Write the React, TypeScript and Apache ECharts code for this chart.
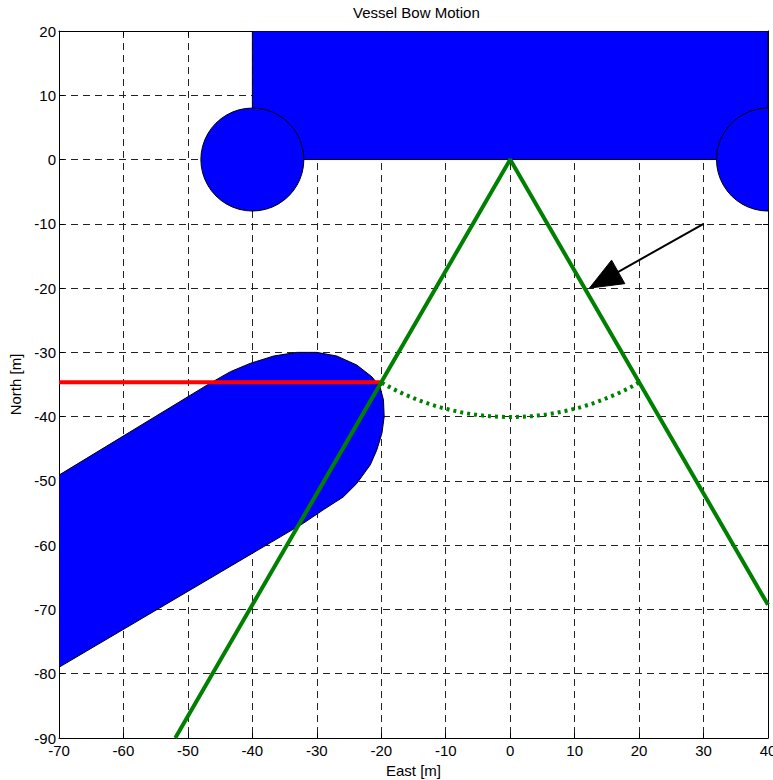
import React, { useEffect, useRef } from "react";
import * as echarts from "echarts";

// Axis ranges and tick step
const xRange = [-70, 40];
const yRange = [-90, 20];
const tickStep = 10;

// Quay / structure: rectangle [xmin, ymin, xmax, ymax]
const quayRect = [-40, 0, 40, 20];
// Fender circles: [cx, cy, r]
const fenderCircles = [
  [-40, 0, 8],
  [40, 0, 8],
];
// Vessel hull outline (East, North)
const hullOutline = [
  [-70, -79],
  [-32.1, -56.6],
  [-29.0, -54.5],
  [-25.9, -52.5],
  [-23.8, -50.4],
  [-21.7, -47.5],
  [-20.7, -45.2],
  [-19.9, -42.6],
  [-19.55, -40.0],
  [-19.66, -37.4],
  [-20.2, -35.35],
  [-21.46, -33.8],
  [-23.8, -31.97],
  [-26.9, -30.57],
  [-30.0, -30.0],
  [-33.1, -30.0],
  [-36.7, -30.57],
  [-40.3, -31.7],
  [-43.4, -33.0],
  [-46.55, -34.8],
  [-70, -49.1],
];
// Sector limit lines (green)
const sectorLines = [
  [-51.96, -90],
  [0, 0],
  [40, -69.28],
];
// Bow reach arc: [cx, cy, radius, fromDeg, toDeg]
const bowArc = [0, 0, 40, -120, -60];
// Red bow track line
const bowTrack = [
  [-70, -34.64],
  [-20, -34.64],
];
// Arrow: tail, tip
const arrowPts = [
  [30, -10],
  [12.3, -20],
];

const FONT = "Liberation Sans, Arial, sans-serif";
const BLUE = "#0000ff";
const GREEN = "#008000";

export default function App() {
  const ref = useRef<HTMLDivElement>(null);

  useEffect(() => {
    if (!ref.current) return;
    const chart = echarts.init(ref.current, null, { renderer: "svg" });

    const baseAxis = (extra: any) => ({
      type: "value",
      interval: tickStep,
      axisLine: { show: true, onZero: false, lineStyle: { color: "#000", width: 1 } },
      axisTick: { show: true, inside: true, length: 5, lineStyle: { color: "#000", width: 1 } },
      ...extra,
    });

    const option: any = {
      animation: false,
      backgroundColor: "#fff",
      grid: {
        left: 59,
        right: 5,
        top: 31,
        bottom: 42,
        containLabel: false,
        outerBoundsMode: "none",
      },
      graphic: [
        {
          type: "text",
          left: 353,
          top: 5,
          style: {
            text: "Vessel Bow Motion",
            fontFamily: FONT,
            fontSize: 15,
            fill: "#000",
          },
        },
      ],
      xAxis: [
        baseAxis({
          min: xRange[0],
          max: xRange[1],
          position: "bottom",
          name: "East [m]",
          nameLocation: "middle",
          nameGap: 22,
          nameTextStyle: { fontFamily: FONT, fontSize: 15, color: "#000" },
          axisLabel: { fontFamily: FONT, fontSize: 15, color: "#000", margin: 5 },
          splitLine: { show: true, lineStyle: { color: "#222", width: 1, type: [7, 5] } },
        }),
        baseAxis({
          min: xRange[0],
          max: xRange[1],
          position: "top",
          axisLabel: { show: false },
          splitLine: { show: false },
        }),
      ],
      yAxis: [
        baseAxis({
          min: yRange[0],
          max: yRange[1],
          position: "left",
          name: "North [m]",
          nameLocation: "middle",
          nameGap: 34,
          nameRotate: 90,
          nameTextStyle: { fontFamily: FONT, fontSize: 15, color: "#000" },
          axisLabel: { fontFamily: FONT, fontSize: 15, color: "#000", margin: 3 },
          splitLine: { show: true, lineStyle: { color: "#222", width: 1, type: [7, 5] } },
        }),
        baseAxis({
          min: yRange[0],
          max: yRange[1],
          position: "right",
          axisLabel: { show: false },
          splitLine: { show: false },
        }),
      ],
      series: [
        {
          type: "custom",
          clip: true,
          data: [quayRect],
          renderItem: (params: any, api: any) => {
            const p1 = api.coord([api.value(0), api.value(3)]);
            const p2 = api.coord([api.value(2), api.value(1)]);
            return {
              type: "rect",
              shape: { x: p1[0], y: p1[1], width: p2[0] - p1[0], height: p2[1] - p1[1] },
              style: { fill: BLUE, stroke: "#000", lineWidth: 1 },
            };
          },
          z: 2,
        },
        {
          type: "custom",
          clip: true,
          data: fenderCircles,
          renderItem: (params: any, api: any) => {
            const c = api.coord([api.value(0), api.value(1)]);
            const s = api.size([api.value(2), api.value(2)]);
            return {
              type: "circle",
              shape: { cx: c[0], cy: c[1], r: (s[0] + s[1]) / 2 },
              style: { fill: BLUE, stroke: "#000", lineWidth: 1 },
            };
          },
          z: 3,
        },
        {
          type: "custom",
          clip: true,
          data: [[0, 0]],
          renderItem: (params: any, api: any) => {
            const pts = hullOutline.map((p) => api.coord(p));
            return {
              type: "polygon",
              shape: { points: pts },
              style: { fill: BLUE, stroke: "#000", lineWidth: 1 },
            };
          },
          z: 3,
        },
        {
          type: "line",
          data: bowTrack,
          showSymbol: false,
          symbol: "none",
          lineStyle: { color: "#ff0000", width: 4 },
          z: 4,
        },
        {
          type: "line",
          data: sectorLines,
          showSymbol: false,
          symbol: "none",
          lineStyle: { color: GREEN, width: 4 },
          z: 5,
        },
        {
          type: "custom",
          clip: true,
          data: [bowArc],
          renderItem: (params: any, api: any) => {
            const c = api.coord([api.value(0), api.value(1)]);
            const s = api.size([api.value(2), api.value(2)]);
            const r = (s[0] + s[1]) / 2;
            const a0 = (-api.value(4) * Math.PI) / 180;
            const a1 = (-api.value(3) * Math.PI) / 180;
            return {
              type: "arc",
              shape: { cx: c[0], cy: c[1], r, startAngle: a0, endAngle: a1, clockwise: true },
              style: { stroke: GREEN, lineWidth: 4, lineDash: [3, 4], fill: "none" },
            };
          },
          z: 5,
        },
        {
          type: "custom",
          clip: true,
          data: [[arrowPts[0][0], arrowPts[0][1], arrowPts[1][0], arrowPts[1][1]]],
          renderItem: (params: any, api: any) => {
            const p0 = api.coord([api.value(0), api.value(1)]);
            const p1 = api.coord([api.value(2), api.value(3)]);
            const dx = p1[0] - p0[0];
            const dy = p1[1] - p0[1];
            const len = Math.sqrt(dx * dx + dy * dy);
            const ux = dx / len;
            const uy = dy / len;
            const nx = -uy;
            const ny = ux;
            const headLen = 33;
            const headHalf = 13.5;
            const bx = p1[0] - ux * headLen;
            const by = p1[1] - uy * headLen;
            return {
              type: "group",
              children: [
                {
                  type: "line",
                  shape: { x1: p0[0], y1: p0[1], x2: bx + ux * 4, y2: by + uy * 4 },
                  style: { stroke: "#000", lineWidth: 2 },
                },
                {
                  type: "polygon",
                  shape: {
                    points: [
                      [p1[0], p1[1]],
                      [bx + nx * headHalf, by + ny * headHalf],
                      [bx - nx * headHalf, by - ny * headHalf],
                    ],
                  },
                  style: { fill: "#000", stroke: "#000", lineWidth: 1 },
                },
              ],
            };
          },
          z: 6,
        },
      ],
    };

    chart.setOption(option);
    return () => {
      chart.dispose();
    };
  }, []);

  return (
    <div
      ref={ref}
      style={{ position: "fixed", left: 0, top: 0, width: 773, height: 780, background: "#fff" }}
    />
  );
}
